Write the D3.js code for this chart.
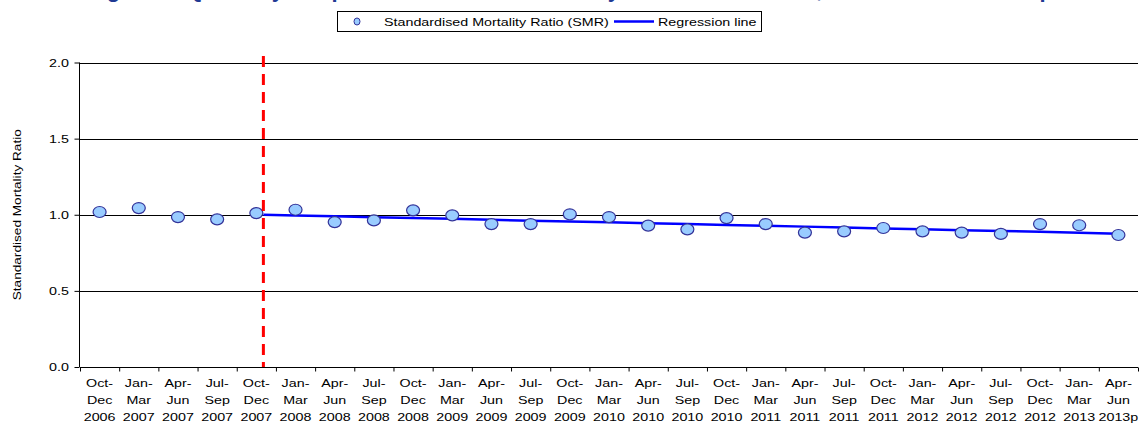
<!DOCTYPE html>
<html>
<head>
<meta charset="utf-8">
<script src="https://cdn.jsdelivr.net/npm/d3@7"></script>
<style>
  body { margin: 0; background: #fff; }
  text { font-family: "Liberation Sans", Arial, sans-serif; fill: #000; }
</style>
</head>
<body>
<div id="chart"></div>
<script>
/*******************************/
/*            Data             */
/*******************************/

var labelPeriods = ["Oct-Dec","Jan-Mar","Apr-Jun","Jul-Sep","Oct-Dec","Jan-Mar","Apr-Jun","Jul-Sep",
                    "Oct-Dec","Jan-Mar","Apr-Jun","Jul-Sep","Oct-Dec","Jan-Mar","Apr-Jun","Jul-Sep",
                    "Oct-Dec","Jan-Mar","Apr-Jun","Jul-Sep","Oct-Dec","Jan-Mar","Apr-Jun","Jul-Sep",
                    "Oct-Dec","Jan-Mar","Apr-Jun"];
var labelYears = ["2006","2007","2007","2007","2007","2008","2008","2008",
                  "2008","2009","2009","2009","2009","2010","2010","2010",
                  "2010","2011","2011","2011","2011","2012","2012","2012",
                  "2012","2013","2013p"];

// standardised mortality ratio per quarter
var smr = [1.018, 1.044, 0.985, 0.970, 1.011, 1.033, 0.952, 0.963,
           1.029, 0.996, 0.939, 0.939, 1.003, 0.985, 0.929, 0.904,
           0.978, 0.939, 0.883, 0.891, 0.913, 0.891, 0.883, 0.874,
           0.939, 0.931, 0.867];

// regression line: starts at the break (in category units), then one value per quarter from Jan-Mar 2008
var breakPos = 4.68;
var regStartValue = 1.000;
var regression = [0.995, 0.990, 0.984, 0.978, 0.973, 0.967, 0.961, 0.956,
                  0.950, 0.944, 0.939, 0.933, 0.927, 0.922, 0.916, 0.910,
                  0.905, 0.899, 0.893, 0.888, 0.882, 0.876];
var regFirstIndex = 5;

var yTicks = [0, 0.5, 1.0, 1.5, 2.0];
var gridValues = [0.5, 1.0, 1.5, 2.0];

var titleText = "Figure 1: Quarterly Hospital Standardised Mortality Ratio for Scotland; Oct 2006 \u2013 Jun 2013p";
var legendSmr = "Standardised Mortality Ratio (SMR)";
var legendReg = "Regression line";
var yTitle = "Standardised Mortality Ratio";

/*******************************/
/*        Chart set-up         */
/*******************************/

var width = 1140, height = 430;
var stretch = 1.3; // text in the original is drawn wide

var svg = d3.select("#chart").append("svg")
  .attr("width", width)
  .attr("height", height);

var x = d3.scaleLinear()
  .domain([0, smr.length])
  .range([80, 1138]);

var y = d3.scaleLinear()
  .domain([0, 2])
  .range([367, 62.5]);

// wide text helper
function wideText(g, tx, ty, str, size, anchor, rot) {
  return g.append("text")
    .attr("transform", "translate(" + tx + "," + ty + ")" + (rot ? " rotate(" + rot + ")" : "") + " scale(" + stretch + ",1)")
    .attr("text-anchor", anchor || "start")
    .style("font-size", size + "px")
    .text(str);
}

// title (only its descenders show at the top edge, as in the original)
svg.append("text")
  .attr("x", width / 2)
  .attr("y", -3)
  .attr("text-anchor", "middle")
  .style("font-size", "22px")
  .style("font-weight", "bold")
  .style("fill", "#1f3a93")
  .text(titleText);

/*******************************/
/*          Gridlines          */
/*******************************/

svg.append("g")
  .selectAll("line")
  .data(gridValues)
  .enter()
  .append("line")
  .attr("x1", x(0))
  .attr("x2", x(smr.length))
  .attr("y1", function(d) { return Math.round(y(d)) + 0.5; })
  .attr("y2", function(d) { return Math.round(y(d)) + 0.5; })
  .attr("stroke", "#000")
  .attr("stroke-width", 1);

/*******************************/
/*            Axes             */
/*******************************/

var yAxis = svg.append("g")
  .attr("transform", "translate(" + (x(0) - 0.5) + ",0)")
  .call(d3.axisLeft(y).tickValues(yTicks).tickSize(5).tickFormat(""));
yAxis.select(".domain").attr("d", "M0," + y(2) + "V" + y(0));

yTicks.forEach(function(v) {
  wideText(svg, 69, y(v) + 4, d3.format(".1f")(v), 11, "end");
});

var xAxis = svg.append("g")
  .attr("transform", "translate(0," + (Math.round(y(0)) + 0.5) + ")")
  .call(d3.axisBottom(x).tickValues(d3.range(smr.length + 1)).tickSize(4).tickFormat(""));
xAxis.select(".domain").attr("d", "M" + x(0) + ",0H" + x(smr.length));

labelPeriods.forEach(function(p, i) {
  var cx = x(i + 0.5);
  var parts = p.split("-");
  wideText(svg, cx, 387, parts[0] + "-", 11, "middle");
  wideText(svg, cx, 404, parts[1], 11, "middle");
  wideText(svg, cx, 421, labelYears[i], 11, "middle");
});

wideText(svg, 21, (y(0) + y(2)) / 2, yTitle, 10.5, "middle", -90);

/*******************************/
/*         Regression          */
/*******************************/

var regPoints = [[breakPos, regStartValue]].concat(regression.map(function(v, i) {
  return [regFirstIndex + i + 0.5, v];
}));

svg.append("path")
  .datum(regPoints)
  .attr("fill", "none")
  .attr("stroke", "#0000ff")
  .attr("stroke-width", 2.5)
  .attr("d", d3.line()
    .x(function(d) { return x(d[0]); })
    .y(function(d) { return y(d[1]); }));

/*******************************/
/*           Points            */
/*******************************/

svg.append("g")
  .selectAll("ellipse")
  .data(smr)
  .enter()
  .append("ellipse")
  .attr("cx", function(d, i) { return x(i + 0.5); })
  .attr("cy", function(d) { return y(d); })
  .attr("rx", 6.5)
  .attr("ry", 5.5)
  .attr("fill", "#99ccff")
  .attr("stroke", "#333399")
  .attr("stroke-width", 1.2);

// break marker
svg.append("line")
  .attr("x1", x(breakPos))
  .attr("x2", x(breakPos))
  .attr("y1", 56)
  .attr("y2", y(0))
  .attr("stroke", "#ff0000")
  .attr("stroke-width", 3)
  .attr("stroke-dasharray", "11,7");

/*******************************/
/*           Legend            */
/*******************************/

var legend = svg.append("g");
legend.append("rect")
  .attr("x", 337.5).attr("y", 11.5)
  .attr("width", 424).attr("height", 20)
  .attr("fill", "#fff")
  .attr("stroke", "#000");
legend.append("ellipse")
  .attr("cx", 357).attr("cy", 21.5)
  .attr("rx", 3).attr("ry", 3.5)
  .attr("fill", "#99ccff")
  .attr("stroke", "#333399");
wideText(legend, 384, 25.5, legendSmr, 11, "start");
legend.append("line")
  .attr("x1", 614).attr("x2", 654)
  .attr("y1", 21.5).attr("y2", 21.5)
  .attr("stroke", "#0000ff")
  .attr("stroke-width", 2.5);
wideText(legend, 658, 25.5, legendReg, 11, "start");
</script>
</body>
</html>
